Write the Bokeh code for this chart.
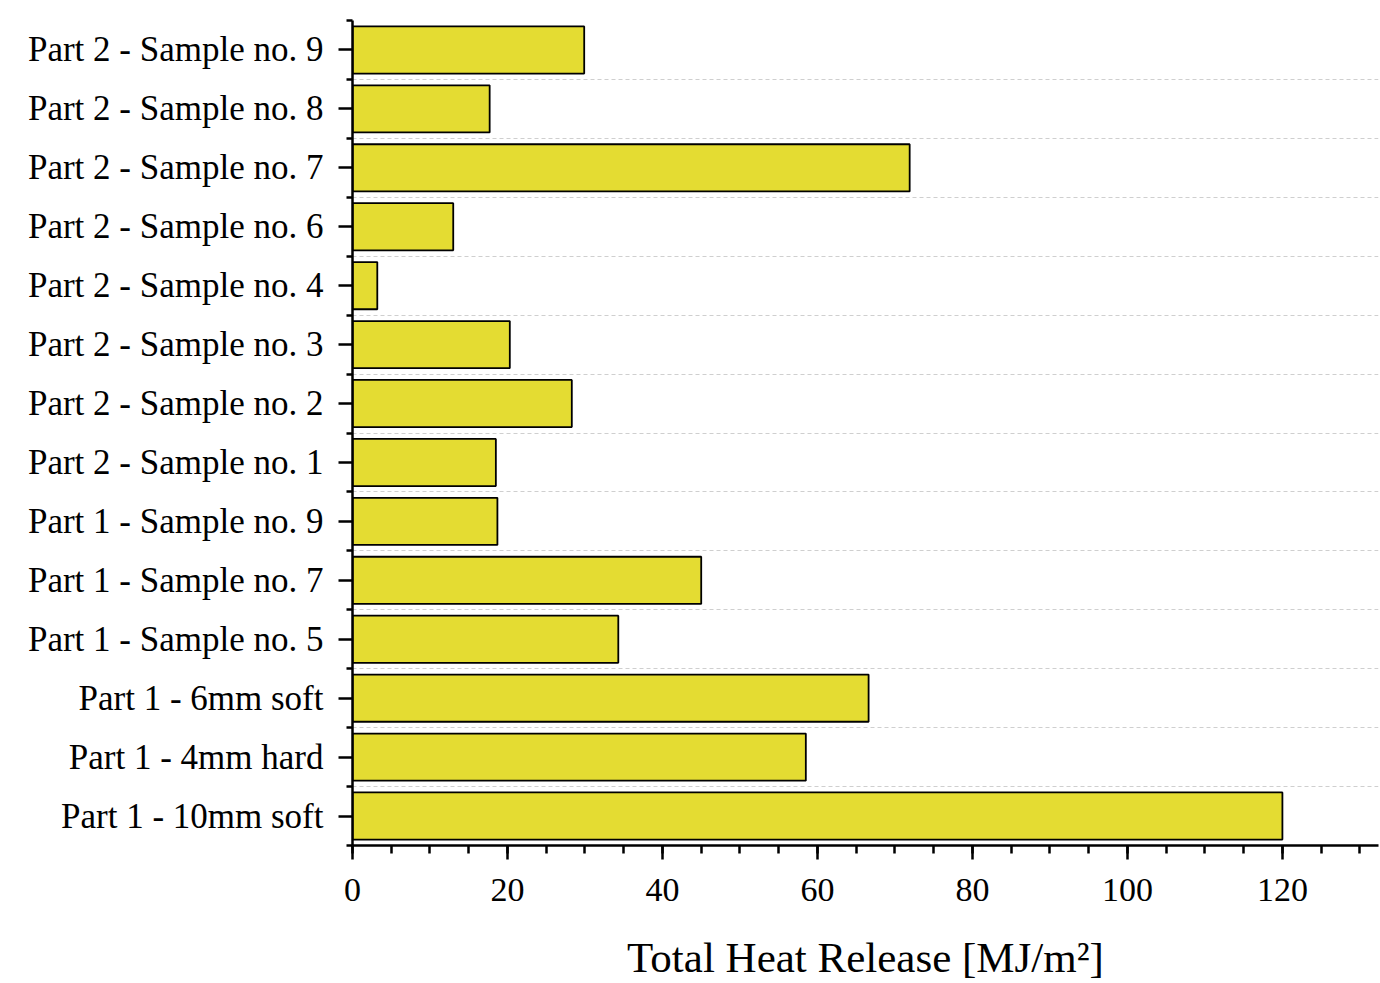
from bokeh.plotting import figure
from bokeh.models import Range1d, FixedTicker
from bokeh.embed import file_html
from bokeh.resources import INLINE

categories = [
    "Part 1 - 10mm soft",
    "Part 1 - 4mm hard",
    "Part 1 - 6mm soft",
    "Part 1 - Sample no. 5",
    "Part 1 - Sample no. 7",
    "Part 1 - Sample no. 9",
    "Part 2 - Sample no. 1",
    "Part 2 - Sample no. 2",
    "Part 2 - Sample no. 3",
    "Part 2 - Sample no. 4",
    "Part 2 - Sample no. 6",
    "Part 2 - Sample no. 7",
    "Part 2 - Sample no. 8",
    "Part 2 - Sample no. 9",
]
thr_values = [120.0, 58.5, 66.6, 34.3, 45.0, 18.7, 18.5, 28.3, 20.3, 3.2, 13.0, 71.9, 17.7, 29.9]
x_ticks = [0, 20, 40, 60, 80, 100, 120]

n = len(categories)
centers = [i + 0.5 for i in range(n)]
bounds = [float(i) for i in range(n + 1)]

FONT = "Liberation Serif"

p = figure(width=1380, height=983, output_backend="svg", toolbar_location=None,
           x_range=Range1d(0, 132.4), y_range=Range1d(0, n),
           min_border_left=352, min_border_right=2, min_border_top=20, min_border_bottom=137)
p.outline_line_color = None
p.background_fill_color = "white"
p.border_fill_color = "white"

p.hbar(y=centers, right=thr_values, left=0, height=0.8,
       fill_color="#e4dc32", line_color="black", line_width=1.8)

# x axis
xa = p.xaxis[0]
xa.ticker = FixedTicker(ticks=x_ticks, minor_ticks=list(range(0, 135, 5)))
xa.axis_label = "Total Heat Release [MJ/m²]"
xa.axis_label_text_font = FONT
xa.axis_label_text_font_style = "normal"
xa.axis_label_text_font_size = "43px"
xa.axis_label_text_color = "black"
xa.axis_label_standoff = 30
xa.major_label_text_font = FONT
xa.major_label_text_font_size = "34px"
xa.major_label_text_color = "black"
xa.major_label_standoff = 19
xa.axis_line_width = 2.5
xa.major_tick_line_width = 2.5
xa.minor_tick_line_width = 2.5
xa.major_tick_out = 14
xa.major_tick_in = 0
xa.minor_tick_out = 8
xa.minor_tick_in = 0

# y axis
ya = p.yaxis[0]
ya.ticker = FixedTicker(ticks=centers, minor_ticks=bounds)
ya.major_label_overrides = {c: lab for c, lab in zip(centers, categories)}
ya.major_label_text_font = FONT
ya.major_label_text_font_size = "35px"
ya.major_label_text_color = "black"
ya.major_label_standoff = 15
ya.axis_line_width = 2.5
ya.major_tick_line_width = 2.5
ya.minor_tick_line_width = 2.5
ya.major_tick_out = 14
ya.major_tick_in = 0
ya.minor_tick_out = 6
ya.minor_tick_in = 0

p.xgrid.visible = False
p.ygrid.ticker = FixedTicker(ticks=bounds[1:-1])
p.ygrid.grid_line_color = "#cfcfcf"
p.ygrid.grid_line_dash = "4 3"
p.ygrid.grid_line_width = 1

open("out.html", "w").write(file_html(p, INLINE))
